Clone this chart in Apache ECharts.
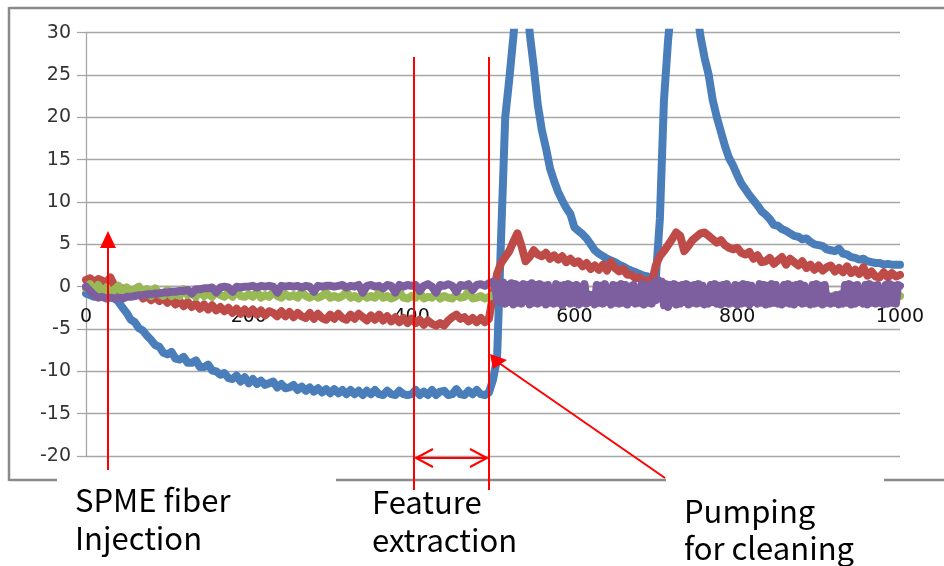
<!DOCTYPE html>
<html>
<head>
<meta charset="utf-8">
<script src="https://cdn.jsdelivr.net/npm/echarts@6/dist/echarts.min.js"></script>
<style>
  html, body { margin: 0; padding: 0; background: #fff; }
  #chart { width: 944px; height: 566px; }
</style>
</head>
<body>
<div id="chart"></div>
<script>
// sample positions: one reading every 5 units from 0 to 1000
const step = 5;
// the purple channel after 500 is read more finely (every 2.5 units)
const fineStep = 2.5;
const fineStart = 502.5;

const blue = [
  -0.8, -1.0, -1.2, -0.9, -1.1, -1.0, -1.2, -1.3, -1.8, -2.5,
  -3.1, -3.9, -4.2, -4.9, -5.2, -5.8, -6.3, -6.9, -7.1, -7.8,
  -8.0, -7.7, -8.5, -8.6, -8.3, -9.0, -9.0, -8.7, -9.5, -9.5,
  -9.2, -9.9, -10.0, -10.4, -10.2, -10.8, -10.9, -10.5, -11.2, -10.7,
  -11.4, -10.9, -11.5, -11.1, -11.6, -11.4, -11.2, -11.9, -11.5, -12.0,
  -11.9, -11.6, -12.2, -11.8, -12.3, -11.9, -12.4, -12.0, -12.5, -12.1,
  -12.6, -12.1, -12.6, -12.2, -12.7, -12.2, -12.7, -12.3, -12.8, -12.3,
  -12.7, -12.2, -12.7, -12.8, -12.3, -12.7, -12.8, -12.3, -12.7, -12.8,
  -12.7, -12.2, -12.8, -12.4, -12.8, -12.2, -12.8, -12.4, -12.3, -12.8,
  -12.7, -12.1, -12.7, -12.8, -12.3, -12.7, -12.2, -12.7, -12.8, -12.5,
  -11.0, -8.5, 6.0, 20.0, 24.5, 29.5, 35.0, 40.0, 38.0, 30.0,
  26.0, 21.5, 18.5, 16.4, 14.0, 12.5, 11.2, 10.2, 9.3, 8.6,
  7.0, 6.6, 6.2, 5.7, 5.0, 4.3, 3.9, 3.6, 3.3, 3.1,
  2.9, 2.6, 2.4, 2.1, 1.9, 1.7, 1.5, 1.3, 1.2, 1.0,
  1.0, 8.0, 22.0, 29.0, 34.0, 38.0, 40.0, 41.0, 40.0, 37.0,
  33.0, 29.5, 27.0, 25.0, 22.0, 20.0, 18.3, 16.6, 15.2, 14.3,
  13.2, 12.2, 11.5, 10.8, 10.2, 9.6, 8.9, 8.5, 8.0, 7.3,
  7.2, 6.8, 6.6, 6.3, 6.0, 5.9, 5.6, 5.7, 5.3, 5.0,
  4.9, 4.8, 4.4, 4.3, 4.2, 4.5, 3.9, 3.8, 3.5, 3.4,
  3.2, 3.3, 3.0, 2.9, 2.8, 2.8, 2.6, 2.7, 2.6, 2.6,
  2.6
];

const red = [
  0.8, 1.0, 0.6, 0.9, 0.7, 0.5, 1.1, 0.1, -0.6, -0.2,
  -0.9, -0.5, -1.1, -0.6, -1.4, -1.1, -1.6, -1.2, -1.7, -1.3,
  -1.9, -1.5, -2.1, -1.7, -2.3, -1.8, -2.4, -2.0, -2.6, -2.1,
  -2.7, -2.2, -2.8, -2.4, -2.9, -2.5, -3.1, -2.6, -3.2, -2.7,
  -3.2, -2.7, -3.3, -2.8, -3.4, -2.9, -3.1, -3.5, -2.9, -3.5,
  -3.0, -3.6, -3.1, -3.5, -3.7, -3.1, -3.8, -3.2, -3.7, -3.9,
  -3.3, -3.8, -3.2, -3.7, -3.9, -3.3, -3.8, -3.2, -3.6, -4.0,
  -3.4, -3.9, -3.3, -4.0, -3.5, -4.1, -3.6, -4.2, -3.7, -4.3,
  -3.8, -4.3, -3.9, -4.5, -4.0, -4.4, -4.6, -4.3, -4.6, -4.0,
  -3.6, -3.3, -3.8, -3.6, -4.1, -3.7, -4.2, -3.7, -4.2, -3.8,
  -1.0, 1.5, 2.8, 3.5, 4.2, 5.3, 6.3, 4.8, 3.0, 3.5,
  4.3, 3.8, 3.6, 4.0, 3.3, 3.7, 3.2, 3.6, 2.9, 3.3,
  2.8, 3.0, 2.4, 2.8, 2.1, 2.5, 2.0, 2.6, 1.9, 2.9,
  2.2, 1.8, 2.1, 1.4, 1.4, 1.0, 1.1, 0.7, 0.7, 0.4,
  2.5, 3.6, 4.2, 4.9, 5.6, 6.4, 6.0, 4.2, 4.8, 5.5,
  5.9, 6.3, 6.4, 6.0, 5.6, 5.2, 5.5, 4.9, 4.6, 4.4,
  4.6, 4.0, 3.8, 4.1, 3.3, 3.7, 2.9, 3.0, 3.4, 2.7,
  3.1, 3.5, 2.6, 3.3, 2.9, 2.5, 3.0, 2.2, 2.6, 2.0,
  2.5, 1.9, 2.3, 2.5, 1.8, 2.2, 1.7, 2.4, 1.6, 2.0,
  1.5, 2.3, 1.3, 1.8, 1.2, 1.1, 1.7, 1.1, 1.6, 1.2,
  1.4
];

const green = [
  -0.2, 0.3, -0.8, 0.2, -1.0, -0.1, -1.2, -0.3, 0.1, -0.9,
  -0.1, -1.1, -0.3, 0.0, -1.0, -0.3, -1.1, -0.2, -0.9, -1.1,
  -0.4, -1.1, -0.7, -1.1, -0.3, -1.0, -0.8, -1.2, -0.5, -1.1,
  -0.8, -1.2, -0.5, -1.0, -1.2, -0.7, -1.2, -0.5, -1.1, -1.2,
  -0.9, -1.2, -0.6, -1.3, -1.0, -1.2, -0.6, -1.1, -1.3, -0.9,
  -1.2, -1.0, -1.3, -0.6, -1.1, -1.3, -1.0, -1.3, -1.1, -0.7,
  -1.3, -1.1, -1.3, -1.1, -0.6, -1.3, -1.1, -1.4, -0.9, -1.3,
  -1.1, -1.3, -0.7, -1.3, -1.1, -1.4, -1.2, -0.6, -1.3, -1.4,
  -1.1, -1.3, -0.7, -1.4, -1.2, -1.3, -0.8, -1.4, -1.1, -1.3,
  -1.4, -0.9, -1.3, -1.2, -0.6, -1.4, -1.3, -1.1, -1.4, -1.2,
  -1.0, -1.2, -0.8, -1.3, -1.1, -0.9, -1.2, -1.0, -1.3, -1.1,
  -0.7, -1.2, -1.0, -1.3, -0.8, -1.1, -1.2, -0.6, -1.3, -1.0,
  -1.1, -1.3, -0.8, -1.2, -1.0, -1.3, -0.9, -1.2, -1.1, -0.7,
  -1.2, -1.0, -1.3, -0.9, -1.1, -1.2, -0.8, -1.3, -1.0, -1.2,
  -0.9, -1.3, -1.1, -0.8, -1.2, -1.0, -1.3, -0.9, -1.1, -1.2,
  -1.0, -1.3, -0.8, -1.2, -1.1, -0.9, -1.3, -1.0, -1.2, -1.1,
  -0.8, -1.2, -1.0, -1.3, -0.9, -1.1, -1.2, -1.0, -1.3, -0.9,
  -1.1, -1.2, -0.8, -1.3, -1.0, -1.2, -1.1, -0.9, -1.3, -1.0,
  -1.2, -0.9, -1.1, -1.3, -1.0, -1.2, -0.8, -1.1, -1.3, -1.0,
  -1.2, -1.1, -0.9, -1.3, -1.0, -1.2, -1.1, -0.8, -1.2, -1.0,
  -1.1
];

// purple, 0..500 every 5 units
const purpleEarly = [
  0.0, -0.5, -1.0, -1.3, -1.2, -1.4, -1.3, -1.4, -1.3, -1.4,
  -1.2, -1.2, -1.1, -1.0, -1.0, -0.9, -0.9, -0.8, -0.8, -0.7,
  -0.7, -0.6, -0.6, -0.5, -0.5, -0.4, -0.8, -0.3, -0.3, -0.2,
  -0.2, -0.1, -0.7, -0.1, 0.0, -0.1, -0.6, 0.0, -0.1, 0.0,
  0.0, 0.1, -0.1, 0.1, 0.0, 0.1, 0.0, -0.7, 0.1, 0.0,
  0.1, 0.0, 0.1, -0.1, 0.1, 0.0, -0.6, 0.1, 0.0, 0.1,
  0.1, 0.0, 0.1, 0.2, -0.1, 0.1, 0.0, 0.2, -0.7, 0.1,
  0.2, 0.0, 0.1, -0.2, 0.2, 0.1, -0.7, 0.2, 0.0, 0.2,
  0.1, 0.2, -0.5, 0.1, 0.3, 0.0, -0.7, 0.2, 0.1, 0.3,
  0.1, -0.6, 0.2, 0.1, 0.3, -0.4, 0.2, 0.3, 0.1, 0.4,
  0.6
];

// purple, 502.5..1000 every 2.5 units
const purpleLate = [
  0.4, -1.6, 0.3, -1.9, 0.5, -2.0, 0.2, -1.8, 0.4, -2.1, 0.3, -1.9, 0.1, -2.0, 0.3, -1.7, 0.2, -2.1, 0.4, -1.9,
  0.2, -2.0, 0.3, -1.8, 0.1, -2.1, 0.2, -1.9, -0.8, -2.0, 0.3, -1.9, 0.1, -2.2, 0.2, -1.8, 0.3, -2.0, 0.1, -1.9,
  0.2, -2.1, 0.0, -1.9, 0.3, -2.0, -0.9, -1.8, -1.0, -2.1, 0.2, -1.9, 0.1, -2.0, 0.3, -1.8, -0.7, -2.1, 0.2, -1.9,
  0.1, -2.0, 0.3, -1.9, 0.2, -2.1, 0.0, -1.8, 0.2, -2.0, -0.9, -1.9, 0.3, -2.1, 0.1, -1.9, 0.2, -2.0, 0.4, -1.6,
  0.8, -1.4, 0.6, -2.2, 0.3, -2.4, 0.2, -1.9, 0.3, -2.1, 0.1, -2.0, 0.2, -1.8, 0.3, -2.1, 0.1, -1.9, 0.2, -2.0,
  0.3, -1.9, 0.1, -2.1, -0.9, -2.0, 0.2, -1.8, 0.3, -2.0, 0.1, -2.1, 0.2, -1.9, 0.3, -2.0, -0.8, -1.9, 0.2, -2.1,
  0.1, -2.0, 0.3, -1.9, 0.2, -2.1, 0.1, -1.8, -1.0, -2.0, 0.3, -1.9, 0.2, -2.1, 0.1, -2.0, 0.3, -1.9, 0.2, -2.0,
  -0.9, -2.1, 0.2, -1.9, 0.3, -2.0, 0.1, -2.1, 0.2, -1.8, 0.3, -2.0, 0.1, -1.9, -0.8, -2.1, 0.2, -2.0, 0.3, -1.9,
  0.1, -2.1, 0.2, -1.9, -1.1, -2.0, -1.2, -1.9, -1.0, -2.1, -0.9, -2.0, 0.2, -1.9, 0.3, -2.1, 0.1, -2.0, 0.2, -1.8,
  -0.9, -2.0, 0.2, -2.1, 0.3, -1.9, 0.1, -2.0, 0.2, -1.9, -1.0, -2.1, 0.2, -2.0, 0.3, -1.9, 0.1, -2.0, 0.2, 0.1
];

const yTicks = { min: -20, max: 30, interval: 5 };
const xTicks = { min: 0, max: 1000, interval: 200 };

const pairs = arr => arr.map((v, i) => [i * step, v]);
const purplePairs = pairs(purpleEarly)
  .concat(purpleLate.map((v, i) => [fineStart + i * fineStep, v]));

const gridGray = '#a6a6a6';
const red0 = '#ff0000';

// plot area (px)
const gridTop = 32.7, gridBottom = 110, plotH = 566 - gridTop - gridBottom;
// the category axis crosses the value axis at 0, as in the spreadsheet
const zeroOffset = -plotH * (0 - yTicks.min) / (yTicks.max - yTicks.min);

function mkLine(data, color) {
  return {
    type: 'line',
    data: data,
    showSymbol: false,
    symbol: 'none',
    sampling: null,
    clip: true,
    lineStyle: { color: color, width: 8, join: 'round', cap: 'round' },
    itemStyle: { color: color }
  };
}

const chart = echarts.init(document.getElementById('chart'));

const txt = (x, y, s) => ({
  type: 'text', x: x, y: y, z: 100,
  style: {
    text: s, fill: '#000', font: '31px "Noto Sans CJK KR", sans-serif',
    textAlign: 'left', textVerticalAlign: 'middle'
  }
});
const seg = (x1, y1, x2, y2, color, w) => ({
  type: 'line', z: 90,
  shape: { x1: x1, y1: y1, x2: x2, y2: y2 },
  style: { stroke: color, lineWidth: w }
});
const tri = pts => ({
  type: 'polygon', z: 90,
  shape: { points: pts },
  style: { fill: red0 }
});
const poly = pts => ({
  type: 'polyline', z: 90,
  shape: { points: pts },
  style: { stroke: red0, lineWidth: 2, fill: null }
});

chart.setOption({
  animation: false,
  backgroundColor: '#fff',
  grid: { left: 86, right: 44, top: gridTop, bottom: gridBottom, containLabel: false },
  xAxis: {
    type: 'value',
    min: xTicks.min, max: xTicks.max, interval: xTicks.interval,
    offset: zeroOffset,
    axisLine: { show: true, onZero: false, lineStyle: { color: gridGray, width: 1.3 } },
    axisTick: { show: false },
    splitLine: { show: false },
    axisLabel: {
      color: '#111', fontFamily: 'DejaVu Sans', fontSize: 19, margin: 21,
      formatter: v => String(v)
    }
  },
  yAxis: {
    type: 'value',
    min: yTicks.min, max: yTicks.max, interval: yTicks.interval,
    axisLine: { show: true, onZero: false, lineStyle: { color: gridGray, width: 1.3 } },
    axisTick: { show: true, length: 9, lineStyle: { color: gridGray, width: 1.3 } },
    splitLine: { show: true, lineStyle: { color: gridGray, width: 1.3 } },
    axisLabel: { color: '#333', fontFamily: 'DejaVu Sans', fontSize: 19, margin: 15 }
  },
  series: [
    mkLine(pairs(blue), '#4a7ebb'),
    mkLine(pairs(red), '#be4b48'),
    mkLine(pairs(green), '#98b954'),
    mkLine(purplePairs, '#7d5fa0')
  ],
  graphic: [
    // outer frame
    seg(9, 8, 944, 8, '#8a8a8a', 2.5),
    seg(9, 7, 9, 481, '#8a8a8a', 2.5),
    seg(9, 480, 57, 480, '#8a8a8a', 2.5),
    seg(336, 480, 666, 480, '#8a8a8a', 2.5),
    seg(884, 480, 944, 480, '#8a8a8a', 2.5),
    // SPME injection arrow
    seg(108, 246, 108, 470, red0, 2),
    tri([[108, 231], [100, 248], [116, 248]]),
    // feature extraction window
    seg(414, 57, 414, 490, red0, 2),
    seg(489, 57, 489, 490, red0, 2),
    seg(416, 458, 487, 458, red0, 2),
    poly([[433, 449], [416, 458], [433, 467]]),
    poly([[470, 449], [487, 458], [470, 467]]),
    // pumping arrow
    seg(665, 478, 499, 363, red0, 2),
    tri([[490, 354], [493, 369], [507, 360]]),
    // labels
    txt(75, 500, 'SPME fiber'),
    txt(75, 538, 'Injection'),
    txt(372, 502, 'Feature'),
    txt(372, 540, 'extraction'),
    txt(684, 511, 'Pumping'),
    txt(684, 548, 'for cleaning')
  ]
});
</script>
</body>
</html>
